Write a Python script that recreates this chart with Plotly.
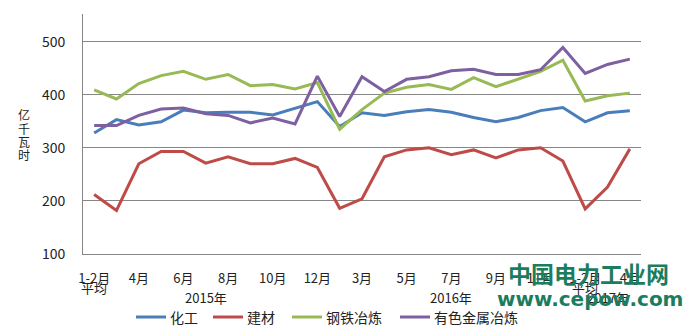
import plotly.graph_objects as go

months = ["1-2月平均", "3月", "4月", "5月", "6月", "7月", "8月", "9月", "10月", "11月", "12月",
          "1-2月平均", "3月", "4月", "5月", "6月", "7月", "8月", "9月", "10月", "11月", "12月",
          "1-2月平均", "3月", "4月"]
tick_labels = ["1-2月", "4月", "6月", "8月", "10月", "12月", "3月", "5月", "7月", "9月",
               "11月", "1-2月", "4月"]
avg_label_idx = [0, 22]
year_labels = ["2015年", "2016年", "2017年"]
year_centers = [5, 16, 23]
y_title_chars = ["亿", "千", "瓦", "时"]

huagong = [328, 353, 343, 349, 371, 366, 367, 367, 362, 375, 387,
           340, 366, 361, 368, 372, 367, 357, 349, 357, 370, 376,
           349, 366, 370]
jiancai = [212, 182, 270, 293, 293, 271, 283, 270, 270, 280, 263,
           186, 204, 283, 296, 300, 287, 296, 281, 296, 300, 275,
           185, 226, 298]
gangtie = [409, 392, 421, 436, 444, 429, 438, 417, 419, 411, 423,
           335, 372, 403, 414, 419, 410, 432, 415, 430, 444, 465,
           388, 398, 403]
youse = [342, 342, 361, 373, 375, 364, 361, 347, 356, 345, 435,
         359, 434, 406, 429, 434, 445, 448, 438, 438, 447, 489,
         440, 457, 467]

series_names = ["化工", "建材", "钢铁冶炼", "有色金属冶炼"]
series_vals = [huagong, jiancai, gangtie, youse]
series_colors = ["#4a7ebb", "#be4b48", "#98b954", "#7d60a0"]

# plot area geometry (px)
W, H = 687, 331
L, R, T, B = 83, 46, 14, 77
PW, PH = W - L - R, H - T - B


def px_x(x):
    return (x - L) / PW


def px_y(y):
    return (H - B - y) / PH


idx = list(range(len(months)))
fig = go.Figure()
for name, vals, color in zip(series_names, series_vals, series_colors):
    fig.add_trace(go.Scatter(x=idx, y=vals, mode="lines", name=name,
                             line=dict(color=color, width=3), showlegend=False))

font = "Noto Sans CJK SC"
fig.update_layout(
    width=W, height=H,
    margin=dict(l=L, r=R, t=T, b=B, autoexpand=False),
    paper_bgcolor="white", plot_bgcolor="white",
    font=dict(family=font, size=13, color="#222"),
    showlegend=False,
)
fig.update_xaxes(range=[-0.5, len(months) - 0.5], tickmode="array",
                 tickvals=idx[::2], ticktext=tick_labels, showgrid=False,
                 showline=True, linecolor="#868686", linewidth=1, ticks="",
                 ticklabelstandoff=12, tickangle=0, zeroline=False,
                 tickfont=dict(size=13))
fig.update_yaxes(range=[100, 552], tickvals=[100, 200, 300, 400, 500],
                 showgrid=True, gridcolor="#868686", gridwidth=1,
                 showline=True, linecolor="#868686", linewidth=1, ticks="",
                 ticklabelstandoff=14, zeroline=False, tickfont=dict(size=14))

# vertical axis title, one character per row
for k, ch in enumerate(y_title_chars):
    fig.add_annotation(text=ch, xref="paper", yref="paper",
                       x=px_x(24), y=px_y(115 + 13.3 * k), xanchor="center", yanchor="middle",
                       showarrow=False, font=dict(size=12, family=font))

for i in avg_label_idx:
    fig.add_annotation(text="平均", xref="x", yref="paper", x=i, y=px_y(287),
                       xanchor="center", yanchor="middle", showarrow=False,
                       font=dict(size=13, family=font))

for lab, c in zip(year_labels, year_centers):
    fig.add_annotation(text=lab, xref="x", yref="paper", x=c, y=px_y(297),
                       xanchor="center", yanchor="middle", showarrow=False,
                       font=dict(size=13, family=font))

# custom legend
leg_line_x = [136, 213, 292, 400]
leg_y = 317
for name, color, lx in zip(series_names, series_colors, leg_line_x):
    fig.add_shape(type="line", xref="paper", yref="paper",
                  x0=px_x(lx), x1=px_x(lx + 30), y0=px_y(leg_y), y1=px_y(leg_y),
                  line=dict(color=color, width=3))
    fig.add_annotation(text=name, xref="paper", yref="paper",
                       x=px_x(lx + 32), y=px_y(leg_y), xanchor="left", yanchor="middle",
                       showarrow=False, font=dict(size=14, family=font))

fig.add_annotation(text="<b>中国电力工业网</b>", xref="paper", yref="paper",
                   x=px_x(588), y=px_y(273), xanchor="center", yanchor="middle",
                   showarrow=False, font=dict(size=23, family=font, color="#1b7d5e"))
fig.add_annotation(text="<b>www.cepow.com</b>", xref="paper", yref="paper",
                   x=px_x(590), y=px_y(299), xanchor="center", yanchor="middle",
                   showarrow=False, font=dict(size=20, family="DejaVu Sans", color="#1b7d5e"))

fig.write_html("out.html")
